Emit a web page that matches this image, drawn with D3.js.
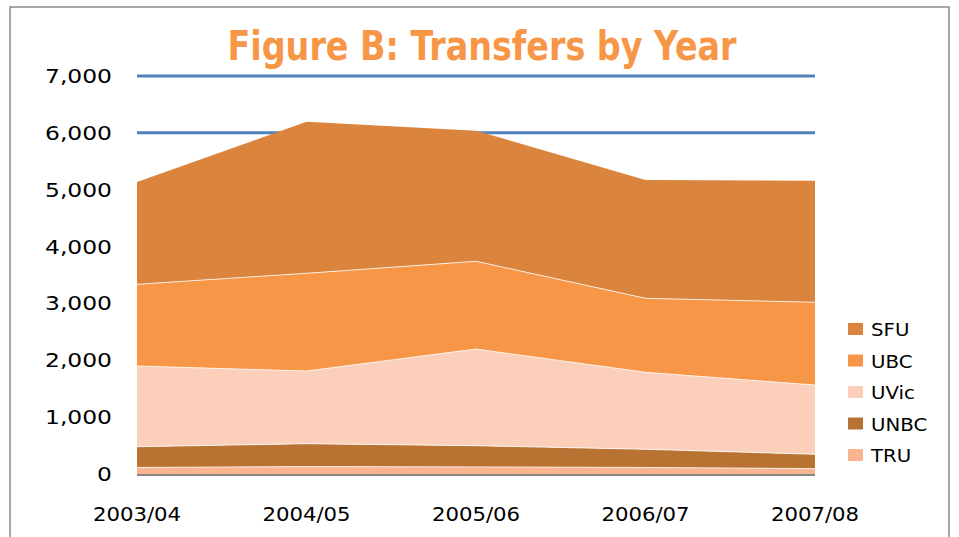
<!DOCTYPE html>
<html>
<head>
<meta charset="utf-8">
<script src="https://cdn.jsdelivr.net/npm/d3@7"></script>
<style>
  body { margin: 0; background: #fff; }
  svg { display: block; font-family: "DejaVu Sans", Verdana, sans-serif; }
</style>
</head>
<body>
<svg id="chart" width="959" height="537"></svg>
<script>
// Chart data
const years = ["2003/04", "2004/05", "2005/06", "2006/07", "2007/08"];
const series = ["TRU", "UNBC", "UVic", "UBC", "SFU"];   // bottom to top
const tru  = [115, 130, 125, 115, 95];
const unbc = [365, 403, 373, 320, 252];
const uvic = [1419, 1278, 1700, 1354, 1218];
const ubc  = [1437, 1719, 1543, 1301, 1455];
const sfu  = [1799, 2666, 2298, 2080, 2139];
const yTicks = [0, 1000, 2000, 3000, 4000, 5000, 6000, 7000];
const legendOrder = ["SFU", "UBC", "UVic", "UNBC", "TRU"];

const colors = {
  SFU: "#DB843D",
  UBC: "#F79646",
  UVic: "#FBCFB9",
  UNBC: "#B87333",
  TRU: "#F9B590"
};

// Build table for d3.stack
const table = years.map((y, i) => ({
  year: y, TRU: tru[i], UNBC: unbc[i], UVic: uvic[i], UBC: ubc[i], SFU: sfu[i]
}));
const stacked = d3.stack().keys(series)(table);

const svg = d3.select("#chart");
const margin = { top: 76, right: 144, bottom: 63, left: 137 };
const width = 959, height = 537;

const x = d3.scalePoint()
  .domain(years)
  .range([margin.left, 815]);

const y = d3.scaleLinear()
  .domain([0, 7000])
  .range([474, margin.top]);

// Outer border
svg.append("rect")
  .attr("x", 10).attr("y", 7)
  .attr("width", 939).attr("height", 540)
  .attr("fill", "none")
  .attr("stroke", "#8a8a8a")
  .attr("stroke-width", 1.5);

// Gridlines
svg.append("g")
  .selectAll("line")
  .data(yTicks.filter(d => d > 0))
  .join("line")
  .attr("x1", x.range()[0])
  .attr("x2", x.range()[1])
  .attr("y1", d => y(d))
  .attr("y2", d => y(d))
  .attr("stroke", "#4F81BD")
  .attr("stroke-width", 3);

// Areas
const area = d3.area()
  .x(d => x(d.data.year))
  .y0(d => y(d[0]))
  .y1(d => y(d[1]));

svg.append("g")
  .selectAll("path")
  .data(stacked)
  .join("path")
  .attr("d", area)
  .attr("fill", d => colors[d.key]);

// Thin white edges on top of each layer
const topLine = d3.line()
  .x(d => x(d.data.year))
  .y(d => y(d[1]));

svg.append("g")
  .selectAll("path")
  .data(stacked.slice(0, 4))
  .join("path")
  .attr("d", topLine)
  .attr("fill", "none")
  .attr("stroke", "#fff")
  .attr("stroke-opacity", 0.8)
  .attr("stroke-width", 1);

// Baseline
svg.append("line")
  .attr("x1", x.range()[0])
  .attr("x2", x.range()[1])
  .attr("y1", y(0) + 1)
  .attr("y2", y(0) + 1)
  .attr("stroke", "#868686")
  .attr("stroke-width", 2);

// Y axis labels
const fmt = d3.format(",");
svg.append("g")
  .selectAll("text")
  .data(yTicks)
  .join("text")
  .attr("transform", d => `translate(112,${y(d) + 7}) scale(1.2,1)`)
  .attr("text-anchor", "end")
  .attr("font-size", 19.5)
  .attr("fill", "#000")
  .text(d => fmt(d));

// X axis labels
svg.append("g")
  .selectAll("text")
  .data(years)
  .join("text")
  .attr("transform", d => `translate(${x(d)},521) scale(1.09,1)`)
  .attr("text-anchor", "middle")
  .attr("font-size", 19.5)
  .attr("fill", "#000")
  .text(d => d);

// Title
svg.append("text")
  .attr("x", 482)
  .attr("y", 60)
  .attr("text-anchor", "middle")
  .attr("font-family", "'Liberation Sans Narrow', 'DejaVu Sans Condensed', sans-serif")
  .attr("font-weight", "bold")
  .attr("font-size", 40)
  .attr("fill", "#F79646")
  .attr("textLength", 509)
  .attr("lengthAdjust", "spacingAndGlyphs")
  .text("Figure B: Transfers by Year");

// Legend
const legend = svg.append("g")
  .selectAll("g")
  .data(legendOrder)
  .join("g")
  .attr("transform", (d, i) => `translate(848,${329 + i * 31.5})`);

legend.append("rect")
  .attr("x", 0).attr("y", -6)
  .attr("width", 15).attr("height", 12)
  .attr("fill", d => colors[d]);

legend.append("text")
  .attr("transform", "translate(23,7) scale(1.07,1)")
  .attr("font-size", 18.5)
  .attr("fill", "#000")
  .text(d => d);
</script>
</body>
</html>
